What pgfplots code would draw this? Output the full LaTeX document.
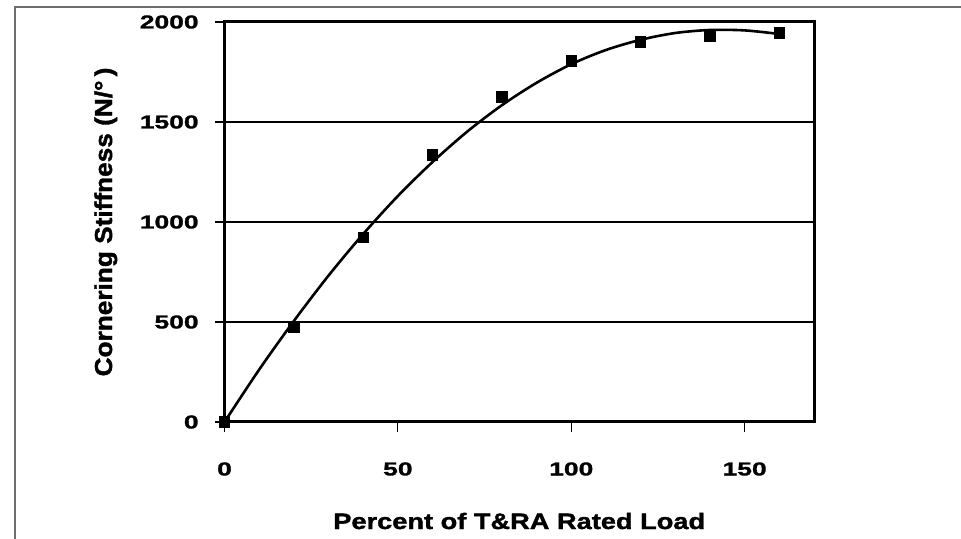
\documentclass[border=0pt]{standalone}
\usepackage{fontspec}
\setmainfont{Liberation Sans}
\newfontfamily\tickfont{Liberation Sans}[FakeStretch=1.42, FakeBold=1.5, UprightFont=* Bold]
\newfontfamily\xlabfont{Liberation Sans}[FakeStretch=1.22, FakeBold=1.5, UprightFont=* Bold]
\newfontfamily\ylabfont{Liberation Sans}[FakeStretch=1.07, FakeBold=1.5, UprightFont=* Bold]
\usepackage{pgfplots}
\pgfplotsset{compat=1.18}
\definecolor{framegray}{RGB}{110,110,110}
\begin{document}
\begin{tikzpicture}
\useasboundingbox (0pt,0pt) rectangle (480.5pt,269.5pt);
\draw[framegray, line width=1pt] (7.5pt,0pt) -- (7.5pt,266pt) -- (481pt,266pt);
\begin{axis}[
  at={(112.25pt,58.5pt)}, anchor=south west,
  scale only axis, width=294.75pt, height=200pt,
  xmin=0, xmax=170, ymin=0, ymax=2000,
  xtick={0,50,100,150}, ytick={0,500,1000,1500,2000},
  tick pos=left, tick align=outside,
  major tick length=5pt,
  tick style={black, line width=0.6pt},
  axis line style={black, line width=1.5pt},
  ymajorgrids, grid style={black, line width=1pt},
  /pgf/number format/assume math mode=true,
  /pgf/number format/1000 sep={},
  tick label style={font=\tickfont\fontsize{9.3}{10}\selectfont, text=black},
  xticklabel style={inner sep=0pt, anchor=north, yshift=-15pt},
  yticklabel style={inner sep=0pt, anchor=east, xshift=-7.75pt},
  xlabel={Percent of T\&RA Rated Load},
  ylabel={Cornering Stiffness (N/°\,)},
  xlabel style={font=\xlabfont\fontsize{11.15}{12}\selectfont, inner sep=0pt,
    at={(axis description cs:0.5,0)}, anchor=base, yshift=-53.5pt},
  ylabel style={font=\ylabfont\fontsize{12.25}{13}\selectfont, inner sep=0pt,
    at={(axis description cs:0,0.5)}, anchor=base, yshift=56.25pt},
  clip=false,
]
\addplot[black, line width=1.3pt, smooth, no marks] coordinates {
  (0,0) (10,262) (20,505) (30,732) (40,940) (50,1130) (60,1300) (70,1452)
  (80,1584) (90,1696) (100,1789) (110,1860) (120,1911) (130,1945)
  (140,1960) (150,1958) (160,1940)
};
\addplot[only marks, mark=square*, mark size=2.6pt, black] coordinates {
  (0,0) (20,476) (40,923) (60,1335) (80,1625) (100,1805) (120,1900) (140,1930) (160,1945)
};
\end{axis}
\end{tikzpicture}
\end{document}
